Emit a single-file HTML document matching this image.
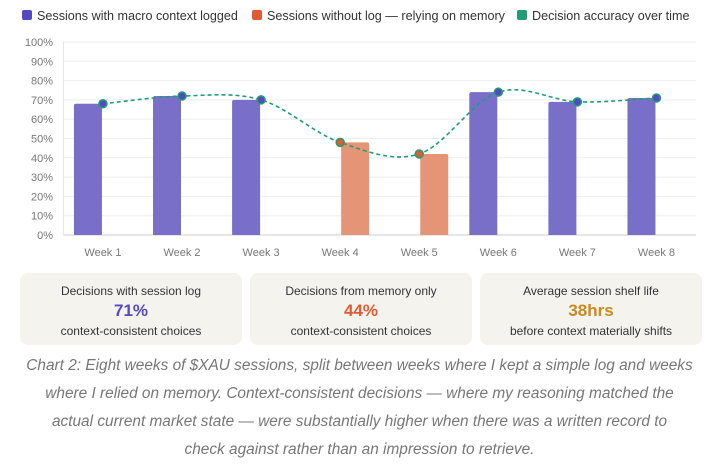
<!DOCTYPE html>
<html><head><meta charset="utf-8">
<style>
body{margin:0;background:#fff;width:719px;height:476px;overflow:hidden;font-family:"Liberation Sans",sans-serif;}
.card{position:absolute;top:273px;width:222px;height:72px;background:#f5f3ee;border-radius:8px;text-align:center;color:#333;}
.card .t{font-size:12px;margin-top:11px;}
.card .v{font-size:17px;font-weight:bold;margin-top:3px;}
.card .s{font-size:12px;margin-top:3px;}
.cap{position:absolute;left:0;top:352px;width:719px;text-align:center;font-style:italic;color:#777;font-size:15.4px;line-height:28px;white-space:nowrap;}
</style></head><body>
<svg id="chart" width="719" height="265" style="position:absolute;left:0;top:0" font-family="Liberation Sans, sans-serif"></svg>
<div class="card" style="left:20px"><div class="t">Decisions with session log</div><div class="v" style="color:#5548c0">71%</div><div class="s">context-consistent choices</div></div>
<div class="card" style="left:250px"><div class="t">Decisions from memory only</div><div class="v" style="color:#e05a33">44%</div><div class="s">context-consistent choices</div></div>
<div class="card" style="left:480px"><div class="t">Average session shelf life</div><div class="v" style="color:#c98a1e">38hrs</div><div class="s">before context materially shifts</div></div>
<div class="cap">Chart 2: Eight weeks of $XAU sessions, split between weeks where I kept a simple log and weeks<br>where I relied on memory. Context-consistent decisions — where my reasoning matched the<br>actual current market state — were substantially higher when there was a written record to<br>check against rather than an impression to retrieve.</div>
<script>
const categories=["Week 1","Week 2","Week 3","Week 4","Week 5","Week 6","Week 7","Week 8"];
const logged=[68,72,70,null,null,74,69,71];
const memory=[null,null,null,48,42,null,null,null];
const accuracy=[68,72,70,48,42,74,69,71];
const yTicks=[0,10,20,30,40,50,60,70,80,90,100];
const NS="http://www.w3.org/2000/svg";
const svg=document.getElementById('chart');
const L=63.4,R=696,T=42,B=235;
const bw=(R-L)/categories.length;
const x=i=>L+bw*(i+0.5);
const y=v=>B-(v/100)*(B-T);
function el(t,a,p){const e=document.createElementNS(NS,t);for(const k in a)e.setAttribute(k,a[k]);(p||svg).appendChild(e);return e;}
const leg=[["#5548c0","Sessions with macro context logged",22],["#e05a33","Sessions without log — relying on memory",252],["#1f9e74","Decision accuracy over time",517]];
leg.forEach(l=>{const g=el('g',{});


el('rect',{x:l[2],y:10,width:10,height:10,rx:2,fill:l[0]},g);
const t=el('text',{x:l[2]+15,y:20,'font-size':12.6,fill:'#333'},g);t.textContent=l[1];});
yTicks.forEach(v=>{
const ln=el('line',{x1:L,x2:R,y1:y(v),y2:y(v),stroke:v===0?'#ccc':'#eee','stroke-width':1});


const t=el('text',{x:53,y:y(v)+4,'text-anchor':'end','font-size':11,fill:'#777'});


t.textContent=v+'%';});
el('line',{x1:L,x2:L,y1:T,y2:B,stroke:'#e4e4e4'});
const bwid=28;
categories.forEach((c,i)=>{
const t=el('text',{x:x(i),y:256,'text-anchor':'middle','font-size':11,fill:'#777'});


t.textContent=c;
if(logged[i]!=null){const r=el('path',{d:bar(x(i)-bwid-1,logged[i]),fill:'#7a6fc8'});

}
if(memory[i]!=null){const r=el('path',{d:bar(x(i)+1,memory[i]),fill:'#e59475'});

}
});
function bar(x0,v){const yt=y(v),r=2;return `M${x0},${B}V${yt+r}Q${x0},${yt} ${x0+r},${yt}H${x0+bwid-r}Q${x0+bwid},${yt} ${x0+bwid},${yt+r}V${B}Z`;}
const pts=accuracy.map((v,i)=>[x(i),y(v)]);
let d=`M${pts[0][0]},${pts[0][1]}`;
for(let i=0;i<pts.length-1;i++){const p0=pts[i-1]||pts[i],p1=pts[i],p2=pts[i+1],p3=pts[i+2]||p2;
d+=`C${p1[0]+(p2[0]-p0[0])/6},${p1[1]+(p2[1]-p0[1])/6} ${p2[0]-(p3[0]-p1[0])/6},${p2[1]-(p3[1]-p1[1])/6} ${p2[0]},${p2[1]}`;}
const line=el('path',{d:d,fill:'none',stroke:'#1f9e74','stroke-width':1.6,'stroke-dasharray':'4,3'});


pts.forEach((p,i)=>{const c=el('circle',{cx:p[0],cy:p[1],r:4,fill:memory[i]!=null?'#e05a33':'#5548c0',stroke:'#1f9e74','stroke-width':1.5});

});
</script>
</body></html>
